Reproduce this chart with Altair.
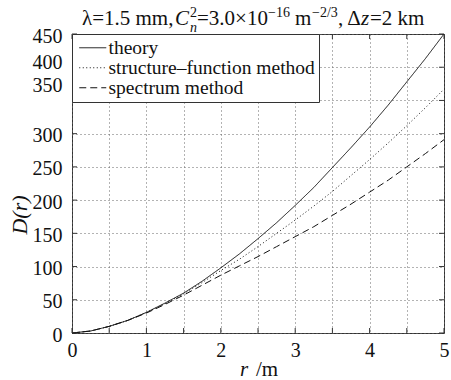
import altair as alt
import pandas as pd

SERIF = "Liberation Serif"
INK = "#111"

# separation r (m)
r = [0, 0.25, 0.5, 0.75, 1, 1.25, 1.5, 1.75, 2, 2.25, 2.5, 2.75, 3, 3.25, 3.5,
     3.75, 4, 4.25, 4.5, 4.75, 5]
# phase structure function D(r) for each method
theory = [0, 3, 10, 19, 31, 45, 60, 78, 98, 119, 142, 166, 192, 219, 249, 279,
          310, 343, 378, 413, 450]
structure_fn = [0, 3, 10, 19, 31, 44, 59, 76, 94, 111, 130, 150, 170, 191, 213,
                237, 261, 286, 312, 339, 367]
spectrum = [0, 3, 10, 19, 30, 43, 57, 72, 87, 101, 115, 130, 145, 160, 177,
            194, 212, 230, 250, 270, 291]

series_names = ["theory", "structure\u2013function method", "spectrum method"]
series_dash = [[1, 0], [1, 2.5], [7, 4]]

x_ticks = [0, 0.5, 1, 1.5, 2, 2.5, 3, 3.5, 4, 4.5, 5]
y_ticks = [0, 50, 100, 150, 200, 250, 300, 350, 400, 450]

W, H = 372, 299

rows = []
for name, vals in zip(series_names, [theory, structure_fn, spectrum]):
    for rv, dv in zip(r, vals):
        rows.append({"r": rv, "D": dv, "method": name})
df = pd.DataFrame(rows)

x_scale = alt.Scale(domain=[0, 5], nice=False)
y_scale = alt.Scale(domain=[0, 450], nice=False)

x_axis = alt.Axis(
    values=x_ticks, grid=True, ticks=False, tickSize=0, domain=False, title=None,
    labelExpr="datum.value % 1 == 0 ? format(datum.value, 'd') : ''",
    labelFlush=False, labelOverlap=False, labelPadding=7)
y_axis = alt.Axis(
    values=y_ticks, grid=True, ticks=False, tickSize=0, domain=False, title=None,
    labelFlush=False, labelOverlap=False, labelPadding=10,
    labelBaseline="middle",
    labelOffset={"expr": "datum.value == 400 ? -5 : datum.value == 350 ? -15 : 2"})

lines = alt.Chart(df).mark_line(color=INK, strokeWidth=1).encode(
    x=alt.X("r:Q", scale=x_scale, axis=x_axis),
    y=alt.Y("D:Q", scale=y_scale, axis=y_axis),
    strokeDash=alt.StrokeDash("method:N", sort=series_names,
                              scale=alt.Scale(domain=series_names, range=series_dash),
                              legend=alt.Legend(title=None)),
    order="r:Q",
)

xt = pd.DataFrame({"r": x_ticks})
yt = pd.DataFrame({"D": y_ticks})
TL = 5
tick_style = dict(color="#333", strokeWidth=1)
ticks = [
    alt.Chart(xt).mark_rule(**tick_style).encode(
        x=alt.X("r:Q", scale=x_scale, axis=x_axis), y=alt.value(H), y2=alt.value(H - TL)),
    alt.Chart(xt).mark_rule(**tick_style).encode(
        x=alt.X("r:Q", scale=x_scale, axis=x_axis), y=alt.value(0), y2=alt.value(TL)),
    alt.Chart(yt).mark_rule(**tick_style).encode(
        y=alt.Y("D:Q", scale=y_scale, axis=y_axis), x=alt.value(0), x2=alt.value(TL)),
    alt.Chart(yt).mark_rule(**tick_style).encode(
        y=alt.Y("D:Q", scale=y_scale, axis=y_axis), x=alt.value(W), x2=alt.value(W - TL)),
]


def txt(s, x, y, size=21, style="normal", angle=0, align="left", baseline="alphabetic"):
    return alt.Chart(alt.Data(values=[{"t": s}])).mark_text(
        text=s, font=SERIF, fontSize=size, fontStyle=style, color=INK,
        align=align, baseline=baseline, angle=angle,
    ).encode(x=alt.value(x), y=alt.value(y))


OX = 72  # plot-area left edge in page pixels
BASE, SUP, SUB = -9, -17, -2
title = [
    txt("\u03bb=1.5 mm,", 82 - OX, BASE),
    txt("C", 175 - OX, BASE, style="italic"),
    txt("2", 190 - OX, SUP, size=14),
    txt("n", 190 - OX, SUB, size=14, style="italic"),
    txt("=3.0\u00d710", 197 - OX, BASE),
    txt("\u221216", 268 - OX, SUP, size=14),
    txt("m", 295 - OX, BASE),
    txt("\u22122/3", 312 - OX, SUP, size=14),
    txt(", \u0394", 338 - OX, BASE),
    txt("z", 361 - OX, BASE, style="italic"),
    txt("=2 km", 370 - OX, BASE),
]

axis_titles = [
    txt("D(r)", 20 - OX, 181, size=22, style="italic", angle=270,
        align="center", baseline="middle"),
    txt("r", 240 - OX, 342, size=21, style="italic"),
    txt("/m", 256 - OX, 342, size=21),
]

chart = alt.layer(lines, *ticks, *title, *axis_titles).properties(
    width=W, height=H,
    autosize="none",
    padding={"left": 72, "top": 34, "right": 7, "bottom": 47},
    background="white",
).configure_view(
    stroke="#333", strokeWidth=1
).configure_axis(
    labelFont=SERIF, labelFontSize=20, labelColor=INK,
    gridColor="#666", gridDash=[1, 3], gridWidth=1, gridOpacity=1,
).configure_legend(
    orient="top-left", offset=0, padding=4, cornerRadius=0,
    strokeColor="#333", fillColor="white",
    labelFont=SERIF, labelFontSize=19.5, labelColor=INK, labelLimit=400,
    # a line symbol twice as wide as its layout box keeps the rows compact
    symbolType="M-2,0H2", symbolSize=182, symbolOffset=7, labelOffset=6,
    symbolStrokeWidth=1, symbolStrokeColor=INK, symbolFillColor="transparent",
    rowPadding=-2,
)

chart.save("out.html", embed_options={"renderer": "svg", "actions": False})
